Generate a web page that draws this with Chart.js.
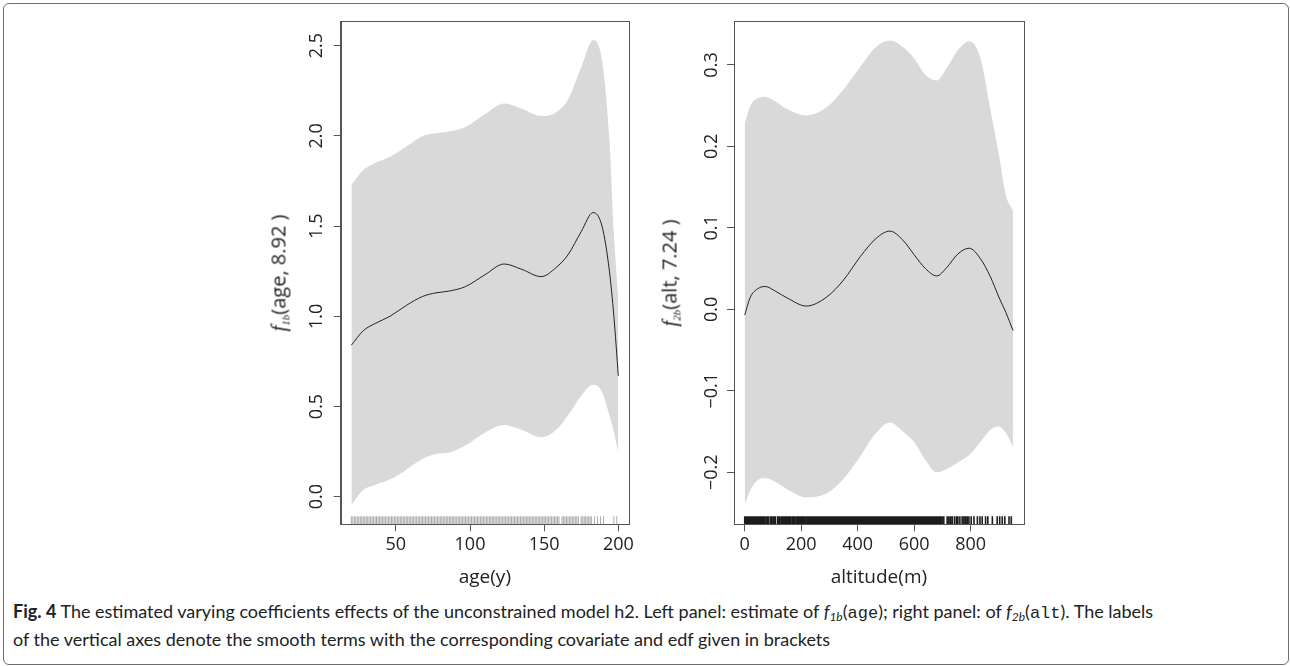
<!DOCTYPE html>
<html>
<head>
<meta charset="utf-8">
<script src="https://cdn.jsdelivr.net/npm/chart.js@4.4.1/dist/chart.umd.min.js"></script>
<style>
  html, body { margin: 0; padding: 0; background: #fff; }
  body { width: 1290px; height: 666px; position: relative; overflow: hidden; font-family: "Open Sans", sans-serif; color: #222; }
  #frame { position: absolute; left: 3px; top: 3px; width: 1286px; height: 662px; border: 1px solid #6e6e6e; border-radius: 6px; box-sizing: border-box; }
  canvas { position: absolute; top: 0; }
  #cL { left: 250px; }
  #cR { left: 650px; }
  .ytitle { position: absolute; transform: translate(-50%, -50%) rotate(-90deg); white-space: nowrap; font-size: 20px; line-height: 24px; }
  .ytitle i { font-family: "Liberation Serif", serif; font-size: 21px; }
  .ytitle sub { font-family: "Liberation Serif", serif; font-style: italic; font-size: 11px; vertical-align: -4px; }
  #caption { position: absolute; left: 13px; top: 600px; font-family: "Lato", sans-serif; font-size: 18px; line-height: 23px; white-space: nowrap; color: #222; }
  #caption code { font-family: "Liberation Mono", monospace; font-size: 17px; }
  #caption sub { font-size: 12px; vertical-align: -3px; }
</style>
</head>
<body>
<div id="frame"></div>
<canvas id="cL" width="400" height="600"></canvas>
<canvas id="cR" width="400" height="600"></canvas>
<div class="ytitle" style="left:282px; top:273px;"><i>f</i><sub>1b</sub>(age, 8.92 )</div>
<div class="ytitle" style="left:673px; top:273px;"><i>f</i><sub>2b</sub>(alt, 7.24 )</div>
<div id="caption"><b>Fig. 4</b> The estimated varying coefficients effects of the unconstrained model h2. Left panel: estimate of <i>f</i><sub><i>1b</i></sub>(<code>age</code>); right panel: of <i>f</i><sub><i>2b</i></sub>(<code>alt</code>). The labels<br>of the vertical axes denote the smooth terms with the corresponding covariate and edf given in brackets</div>

<script>
// left panel: age
const ageX     = [20, 28, 36, 46, 57, 68, 77, 86, 97, 110, 123, 135, 148, 158, 166, 175, 183, 189, 194, 197, 200];
const ageUpper = [1.73, 1.81, 1.85, 1.885, 1.94, 2.00, 2.015, 2.025, 2.05, 2.12, 2.18, 2.15, 2.11, 2.13, 2.20, 2.38, 2.53, 2.42, 1.98, 1.46, 1.10];
const ageFit   = [0.84, 0.92, 0.96, 1.00, 1.06, 1.11, 1.13, 1.14, 1.165, 1.23, 1.29, 1.26, 1.22, 1.27, 1.34, 1.47, 1.575, 1.50, 1.25, 1.00, 0.67];
const ageLower = [-0.046, 0.037, 0.065, 0.095, 0.15, 0.21, 0.237, 0.245, 0.285, 0.355, 0.397, 0.37, 0.33, 0.37, 0.45, 0.56, 0.62, 0.58, 0.45, 0.36, 0.24];
const ageRug = [
  20, 21, 22, 23, 24, 25, 26, 27, 28, 29, 30, 31, 32, 33, 34, 35, 36, 37, 38, 39,
  40, 41, 42, 43, 44, 45, 46, 47, 48, 49, 50, 51, 52, 53, 54, 55, 56, 57, 58, 59,
  60, 61, 62, 63, 64, 65, 66, 67, 68, 69, 70, 71, 72, 73, 74, 75, 76, 77, 78, 79,
  80, 81, 82, 83, 84, 85, 86, 87, 88, 89, 90, 91, 92, 93, 94, 95, 96, 97, 98, 99,
  100, 101, 102, 103, 104, 105, 106, 107, 108, 109, 110, 111, 112, 113, 114, 115, 116, 117, 118, 119,
  120, 121, 122, 123, 124, 125, 126, 127, 128, 129, 130, 131, 132, 133, 134, 135, 136, 137, 138, 139,
  140, 141, 142, 143, 144, 145, 146, 147, 148, 149, 150, 151, 152, 153, 154, 155, 156, 157, 158, 159, 160,
  162, 163, 164, 165, 166, 167, 168, 169, 170, 171, 172, 173,
  175, 176, 177, 178, 179, 180, 181, 182, 184, 186, 188, 190, 197, 199
];
const ageXTicks = [50, 100, 150, 200];
const ageYTicks = [0, 0.5, 1, 1.5, 2, 2.5];

// right panel: altitude
const altX     = [0, 20, 45, 72, 110, 150, 218, 290, 350, 410, 465, 514, 560, 600, 640, 680, 715, 755, 795, 835, 870, 900, 925, 950];
const altUpper = [0.228, 0.250, 0.259, 0.261, 0.255, 0.246, 0.238, 0.248, 0.270, 0.298, 0.322, 0.330, 0.322, 0.308, 0.288, 0.281, 0.296, 0.318, 0.329, 0.308, 0.245, 0.190, 0.140, 0.121];
const altFit   = [-0.007, 0.015, 0.025, 0.028, 0.022, 0.014, 0.004, 0.015, 0.036, 0.065, 0.087, 0.096, 0.085, 0.067, 0.050, 0.041, 0.051, 0.068, 0.075, 0.062, 0.040, 0.015, -0.004, -0.026];
const altLower = [-0.240, -0.222, -0.210, -0.207, -0.212, -0.221, -0.231, -0.226, -0.208, -0.180, -0.152, -0.139, -0.150, -0.163, -0.185, -0.200, -0.196, -0.188, -0.179, -0.163, -0.148, -0.144, -0.152, -0.169];
const altRug = [
  0, 5, 10, 15, 20, 25, 30, 35, 40, 45, 50, 55, 60, 65,
  69, 75, 78, 81, 84, 91, 94, 97, 103, 106, 109, 117, 120, 123, 129, 132, 135,
  138, 141, 146, 149, 152, 155, 158, 161, 164, 170, 173, 176, 182, 185, 188, 191, 194, 199, 202, 205, 208, 211, 214,
  220, 225, 230, 235, 240, 245, 250, 255, 260, 265, 270, 275, 280, 285, 290, 295, 300, 305, 310, 315,
  320, 325, 330, 335, 340, 345, 350, 355, 360, 365, 370, 375, 380, 385, 390, 395, 400, 405, 410, 415,
  420, 425, 430, 435, 440, 445, 450, 455, 460, 465, 470, 475, 480, 485, 490, 495, 500, 505, 510, 515,
  520, 525, 530, 535, 540, 545, 550, 555, 560, 565, 570, 575, 580, 585, 590, 595, 600, 605, 610, 615,
  620, 625, 630, 635, 640, 645, 650,
  655, 659, 663, 667, 672, 676, 681, 686, 690, 694,
  699, 705, 717, 723, 729, 735, 743, 750, 755, 762, 770, 776, 782, 788, 794, 802, 812,
  824, 833, 841, 853, 861, 877, 894, 903, 912, 921, 936, 944
];
const altXTicks = [0, 200, 400, 600, 800];
const altYTicks = [-0.2, -0.1, 0, 0.1, 0.2, 0.3];

const TICK_FONT = { family: "Open Sans", size: 18 };
const AXIS_COLOR = "#555";

// rug marks along the bottom of the plot region
const rugPlugin = {
  id: "rug",
  afterDatasetsDraw(chart, args, opts) {
    const { ctx, chartArea, scales } = chart;
    ctx.save();
    ctx.strokeStyle = opts.color;
    ctx.lineWidth = opts.width;
    ctx.beginPath();
    opts.values.forEach(v => {
      const px = scales.x.getPixelForValue(v);
      ctx.moveTo(px, chartArea.bottom - opts.length);
      ctx.lineTo(px, chartArea.bottom);
    });
    ctx.stroke();
    ctx.restore();
  }
};

// full box round the plot region, like R's box()
const boxPlugin = {
  id: "box",
  afterDatasetsDraw(chart) {
    const { ctx, chartArea } = chart;
    ctx.save();
    ctx.strokeStyle = AXIS_COLOR;
    ctx.lineWidth = 1;
    ctx.strokeRect(Math.round(chartArea.left) + 0.5, Math.round(chartArea.top) + 0.5,
      Math.round(chartArea.right - chartArea.left), Math.round(chartArea.bottom - chartArea.top));
    ctx.restore();
  }
};

function pairs(xs, ys) {
  return xs.map((x, i) => ({ x: x, y: ys[i] }));
}

function fmt(v) {
  return v.toFixed(1).replace("-", "\u2212");
}

function makeChart(id, cfg) {
  return new Chart(document.getElementById(id), {
    type: "line",
    data: {
      datasets: [
        { data: pairs(cfg.x, cfg.fit), borderColor: "#222", borderWidth: 1, pointRadius: 0, fill: false, order: 0, cubicInterpolationMode: "monotone" },
        { data: pairs(cfg.x, cfg.upper), borderWidth: 0, borderColor: "rgba(0,0,0,0)", backgroundColor: "#d9d9d9", pointRadius: 0, fill: "+1", order: 1, cubicInterpolationMode: "monotone" },
        { data: pairs(cfg.x, cfg.lower), borderWidth: 0, borderColor: "rgba(0,0,0,0)", pointRadius: 0, fill: false, order: 1, cubicInterpolationMode: "monotone" }
      ]
    },
    options: {
      responsive: false,
      animation: false,
      events: [],
      layout: { padding: { top: 21, right: cfg.padRight, left: 0, bottom: 0 } },
      plugins: {
        legend: { display: false },
        tooltip: { enabled: false },
        rug: { values: cfg.rug, color: cfg.rugColor, width: cfg.rugWidth, length: 8 }
      },
      scales: {
        x: {
          type: "linear",
          min: cfg.xMin,
          max: cfg.xMax,
          afterBuildTicks: s => { s.ticks = cfg.xTicks.map(v => ({ value: v })); },
          afterFit: s => { s.height = 75.7; },
          grid: { drawOnChartArea: false, drawTicks: true, tickLength: 7, color: AXIS_COLOR },
          border: { display: true, color: AXIS_COLOR },
          ticks: { font: TICK_FONT, color: "#222", padding: 3, maxRotation: 0, callback: v => String(v) },
          title: { display: true, text: cfg.xTitle, color: "#222", font: { family: "Open Sans", size: 19 }, padding: { top: 0, bottom: 11 } }
        },
        y: {
          type: "linear",
          min: cfg.yMin,
          max: cfg.yMax,
          afterBuildTicks: s => { s.ticks = cfg.yTicks.map(v => ({ value: v })); },
          afterFit: s => { s.width = cfg.yWidth; },
          grid: { drawOnChartArea: false, drawTicks: true, tickLength: 7, color: AXIS_COLOR },
          border: { display: true, color: AXIS_COLOR },
          ticks: { font: TICK_FONT, color: "#222", minRotation: 90, maxRotation: 90, crossAlign: "center", padding: cfg.yTickPad, callback: v => fmt(v) }
        }
      }
    },
    plugins: [rugPlugin, boxPlugin]
  });
}

makeChart("cL", {
  x: ageX, fit: ageFit, upper: ageUpper, lower: ageLower, rug: ageRug,
  xTicks: ageXTicks, yTicks: ageYTicks, xMin: 12.8, xMax: 207.2, yMin: -0.153, yMax: 2.637,
  xTitle: "age(y)", yWidth: 90.7, padRight: 21, yTickPad: 4, rugColor: "#707070", rugWidth: 0.6
});

makeChart("cR", {
  x: altX, fit: altFit, upper: altUpper, lower: altLower, rug: altRug,
  xTicks: altXTicks, yTicks: altYTicks, xMin: -38, xMax: 988, yMin: -0.264, yMax: 0.354,
  xTitle: "altitude(m)", yWidth: 84, padRight: 26.3, yTickPad: -3, rugColor: "#1c1c1c", rugWidth: 1.6
});
</script>
</body>
</html>
